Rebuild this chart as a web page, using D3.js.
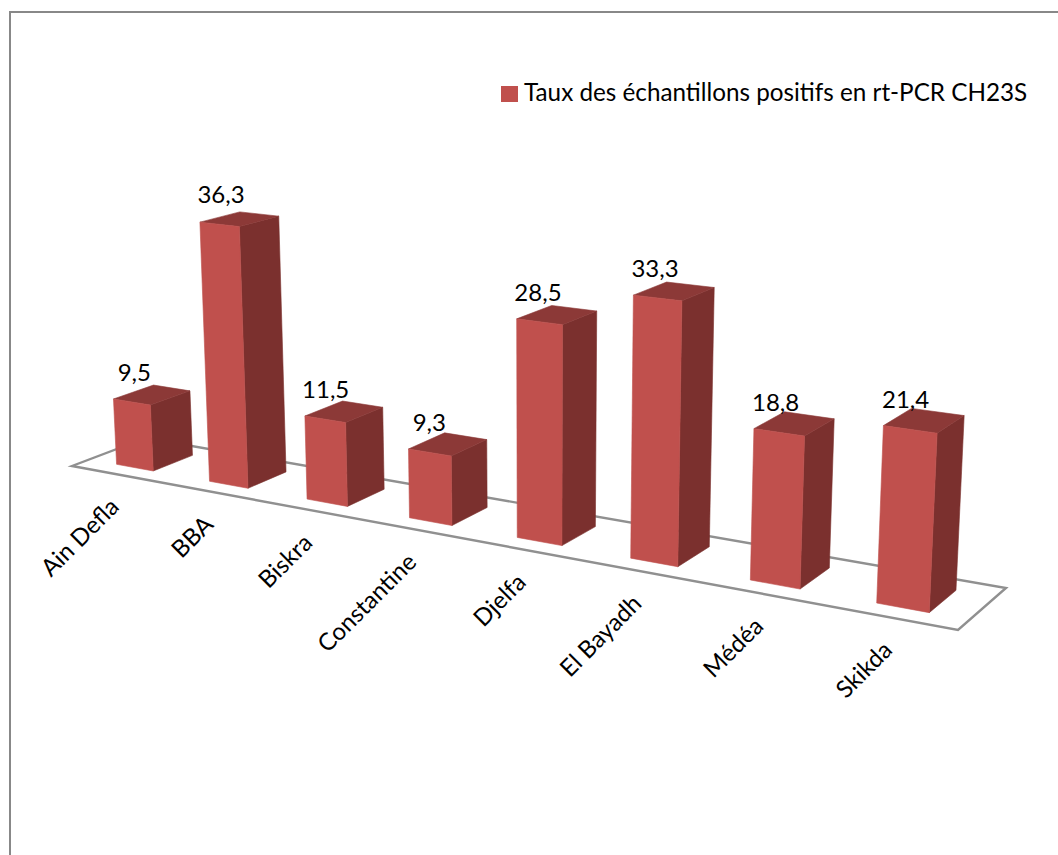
<!DOCTYPE html>
<html><head><meta charset="utf-8">
<script src="https://cdn.jsdelivr.net/npm/d3@7"></script>
<style>html,body{margin:0;padding:0;background:#fff}svg{display:block}text{font-family:Lato,sans-serif;fill:#000}</style>
</head><body><div id="chart"></div>
<script>
const categories = ["Ain Defla","BBA","Biskra","Constantine","Djelfa","El Bayadh","Médéa","Skikda"];
const values = [9.5,36.3,11.5,9.3,28.5,33.3,18.8,21.4];
const valueLabels = ["9,5","36,3","11,5","9,3","28,5","33,3","18,8","21,4"];
const seriesName = "Taux des échantillons positifs en rt-PCR CH23S";

const W = 1058, H = 855;
const front = "#C0504D", side = "#7B302E", topFace = "#8C3937", grey = "#909090";

// Floor plane homography (u along categories, w into depth)
const Q = {p00:[72,466], p10:[958,630], p11:[1006,588], p01:[146,438]};
const hom = (() => {
  const {p00,p10,p11,p01} = Q;
  const dx1=p10[0]-p11[0], dy1=p10[1]-p11[1], dx2=p01[0]-p11[0], dy2=p01[1]-p11[1];
  const sx=p00[0]-p10[0]+p11[0]-p01[0], sy=p00[1]-p10[1]+p11[1]-p01[1];
  const det=dx1*dy2-dx2*dy1;
  const g=(sx*dy2-dx2*sy)/det, h=(dx1*sy-sx*dy1)/det;
  return {g,h,
    a:p10[0]-p00[0]+g*p10[0], b:p01[0]-p00[0]+h*p01[0], c:p00[0],
    d:p10[1]-p00[1]+g*p10[1], e:p01[1]-p00[1]+h*p01[1], f:p00[1]};
})();
const denom = (u,w) => 1 + hom.g*u + hom.h*w;
const floorPt = (u,w) => { const q=denom(u,w); return [(hom.a*u+hom.b*w+hom.c)/q,(hom.d*u+hom.e*w+hom.f)/q]; };

const uScale = d3.scaleBand().domain(categories).range([0,1]).paddingInner(0.6).paddingOuter(0.3);
const wFront = 0.23, wBack = 0.77;
const vScale = d3.scaleLinear().domain([0,1]).range([0,6.86]);
const vanishX = 540, vanishD = 8900, riseD = 14000;
// 3D → screen: floor point raised by value, converging to a vertical vanishing point
function project(u,w,v){
  const [x,y] = floorPt(u,w);
  const h0 = vScale(v)/denom(u,w);
  const h = h0/(1-h0/riseD);
  return [x+(x-vanishX)*h/vanishD, y-h];
}
const poly = d3.line();

const svg = d3.select("#chart").append("svg").attr("width",W).attr("height",H);
svg.append("path").attr("d",`M10,${H}V12H${W}`).attr("fill","none").attr("stroke","#888").attr("stroke-width",2);

// floor
svg.append("path")
  .attr("d",poly([floorPt(0,0),floorPt(1,0),floorPt(1,1),floorPt(0,1)])+"Z")
  .attr("fill","none").attr("stroke",grey).attr("stroke-width",2.4).attr("stroke-linejoin","miter");

// bars
const rows = categories.map((c,i)=>({c,v:values[i],label:valueLabels[i]}));
const bars = svg.selectAll("g.bar").data(rows).join("g").attr("class","bar");
const U0 = d=>uScale(d.c), U1 = d=>uScale(d.c)+uScale.bandwidth();
const face = (sel,col,fn)=>sel.append("path").attr("fill",col).attr("stroke",col).attr("stroke-width",0.6).attr("stroke-linejoin","round").attr("d",d=>poly(fn(d))+"Z");
face(bars,side,d=>[project(U1(d),wFront,0),project(U1(d),wBack,0),project(U1(d),wBack,d.v),project(U1(d),wFront,d.v)]);
face(bars,topFace,d=>[project(U0(d),wFront,d.v),project(U1(d),wFront,d.v),project(U1(d),wBack,d.v),project(U0(d),wBack,d.v)]);
face(bars,front,d=>[project(U0(d),wFront,0),project(U1(d),wFront,0),project(U1(d),wFront,d.v),project(U0(d),wFront,d.v)]);

// value labels
const labelDx = d3.scaleLinear().domain([0,1]).range([3,-5]);
bars.append("text").attr("text-anchor","middle").attr("font-size",24)
  .attr("x",d=>{const u=U0(d)+uScale.bandwidth()/2;return project(u,wFront,d.v)[0]+labelDx(u);})
  .attr("y",d=>project(U0(d)+uScale.bandwidth()/2,wFront,d.v)[1]-21)
  .text(d=>d.label);

// category labels
svg.selectAll("text.cat").data(rows).join("text").attr("class","cat")
  .attr("text-anchor","end").attr("font-size",24)
  .attr("transform",d=>{const p=floorPt(uScale(d.c)+uScale.bandwidth()/2,0);return `translate(${p[0]+3},${p[1]+34}) rotate(-45)`;})
  .text(d=>d.c);

// legend
svg.append("rect").attr("x",501).attr("y",86).attr("width",17).attr("height",16).attr("fill",front);
svg.append("text").attr("x",524).attr("y",101).attr("font-size",24.25).text(seriesName);
</script></body></html>
